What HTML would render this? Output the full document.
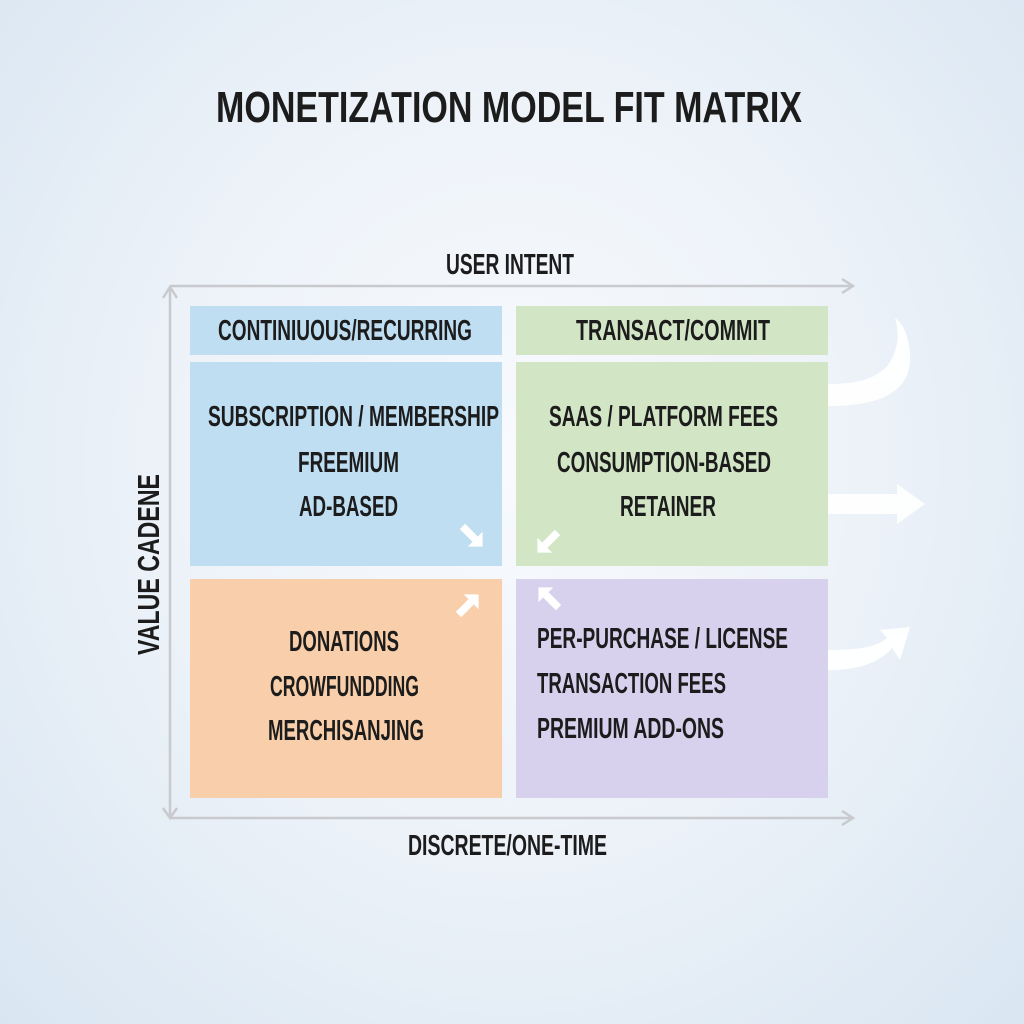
<!DOCTYPE html>
<html><head><meta charset="utf-8">
<style>
html,body{margin:0;padding:0;width:1024px;height:1024px;overflow:hidden;}
body{background:radial-gradient(ellipse at 50% 45%, #f8fafd 0%, #eef3f9 45%, #d9e6f2 100%);}
svg{position:absolute;left:0;top:0;}
text{font-family:"Liberation Sans",sans-serif;font-weight:bold;fill:#1c1c1c;}
</style></head>
<body>
<svg width="1024" height="1024" viewBox="0 0 1024 1024">
  <text x="216" y="122" font-size="44" textLength="586" lengthAdjust="spacingAndGlyphs">MONETIZATION MODEL FIT MATRIX</text>
  <text x="446" y="274" font-size="29" textLength="128" lengthAdjust="spacingAndGlyphs">USER INTENT</text>

  <g stroke="#c8cacd" stroke-width="2.5" fill="none">
    <line x1="170" y1="286" x2="852" y2="286"/>
    <polyline points="842,279 853,286 842,293"/>
    <line x1="170" y1="288" x2="170" y2="818"/>
    <polyline points="163,298 170,287 177,298"/>
    <polyline points="163,808 170,818 177,808"/>
    <line x1="170" y1="818" x2="852" y2="818"/>
    <polyline points="842,811 853,818 842,825"/>
  </g>

  <rect x="190" y="306" width="312" height="49" fill="#bfdef2"/>
  <rect x="516" y="306" width="312" height="49" fill="#d2e6c6"/>
  <rect x="190" y="362" width="312" height="204" fill="#bfdef2"/>
  <rect x="516" y="362" width="312" height="204" fill="#d2e6c6"/>
  <rect x="190" y="579" width="312" height="219" fill="#f8cfaa"/>
  <rect x="516" y="579" width="312" height="219" fill="#d7d1ee"/>

  <g fill="#ffffff">
    <g transform="translate(472,536) rotate(45) scale(1.5)"><rect x="-9" y="-2.5" width="12" height="5"/><polygon points="3,-7 10,0 3,7"/></g>
    <g transform="translate(548,542) rotate(135) scale(1.5)"><rect x="-9" y="-2.5" width="12" height="5"/><polygon points="3,-7 10,0 3,7"/></g>
    <g transform="translate(468,605) rotate(-45) scale(1.5)"><rect x="-9" y="-2.5" width="12" height="5"/><polygon points="3,-7 10,0 3,7"/></g>
    <g transform="translate(549,598) rotate(-135) scale(1.5)"><rect x="-9" y="-2.5" width="12" height="5"/><polygon points="3,-7 10,0 3,7"/></g>
  </g>

  <g fill="#ffffff" opacity="0.95">
    <path d="M828,384 L828,406 C880,406 912,392 910,355 C909,335 902,322 895,318 C900,335 898,350 888,365 C875,380 855,384 828,384 Z"/>
    <rect x="828" y="494" width="70" height="20"/>
    <polygon points="897,484 925,504 897,524"/>
    <path d="M828,650 L828,670 C860,670 880,662 892,648 L900,660 L910,627 L880,630 L887,638 C875,648 855,650 828,650 Z"/>
  </g>

  <text x="218" y="340" font-size="29" textLength="254" lengthAdjust="spacingAndGlyphs">CONTINIUOUS/RECURRING</text>
  <text x="576" y="340" font-size="29" textLength="194" lengthAdjust="spacingAndGlyphs">TRANSACT/COMMIT</text>

  <text x="208" y="426" font-size="29" textLength="291" lengthAdjust="spacingAndGlyphs">SUBSCRIPTION / MEMBERSHIP</text>
  <text x="298" y="472" font-size="29" textLength="101" lengthAdjust="spacingAndGlyphs">FREEMIUM</text>
  <text x="299" y="516" font-size="29" textLength="99" lengthAdjust="spacingAndGlyphs">AD-BASED</text>
  <text x="549" y="426" font-size="29" textLength="229" lengthAdjust="spacingAndGlyphs">SAAS / PLATFORM FEES</text>
  <text x="557" y="472" font-size="29" textLength="214" lengthAdjust="spacingAndGlyphs">CONSUMPTION-BASED</text>
  <text x="620" y="516" font-size="29" textLength="96" lengthAdjust="spacingAndGlyphs">RETAINER</text>
  <text x="289" y="651" font-size="29" textLength="110" lengthAdjust="spacingAndGlyphs">DONATIONS</text>
  <text x="270" y="696" font-size="29" textLength="149" lengthAdjust="spacingAndGlyphs">CROWFUNDDING</text>
  <text x="268" y="740" font-size="29" textLength="156" lengthAdjust="spacingAndGlyphs">MERCHISANJING</text>
  <text x="537" y="648" font-size="29" textLength="251" lengthAdjust="spacingAndGlyphs">PER-PURCHASE / LICENSE</text>
  <text x="537" y="693" font-size="29" textLength="189" lengthAdjust="spacingAndGlyphs">TRANSACTION FEES</text>
  <text x="537" y="738" font-size="29" textLength="187" lengthAdjust="spacingAndGlyphs">PREMIUM ADD-ONS</text>

  <text x="408" y="855" font-size="29" textLength="199" lengthAdjust="spacingAndGlyphs">DISCRETE/ONE-TIME</text>

  <text transform="translate(159,655) rotate(-90)" x="0" y="0" font-size="31" textLength="181" lengthAdjust="spacingAndGlyphs">VALUE  CADENE</text>
</svg>
</body></html>
